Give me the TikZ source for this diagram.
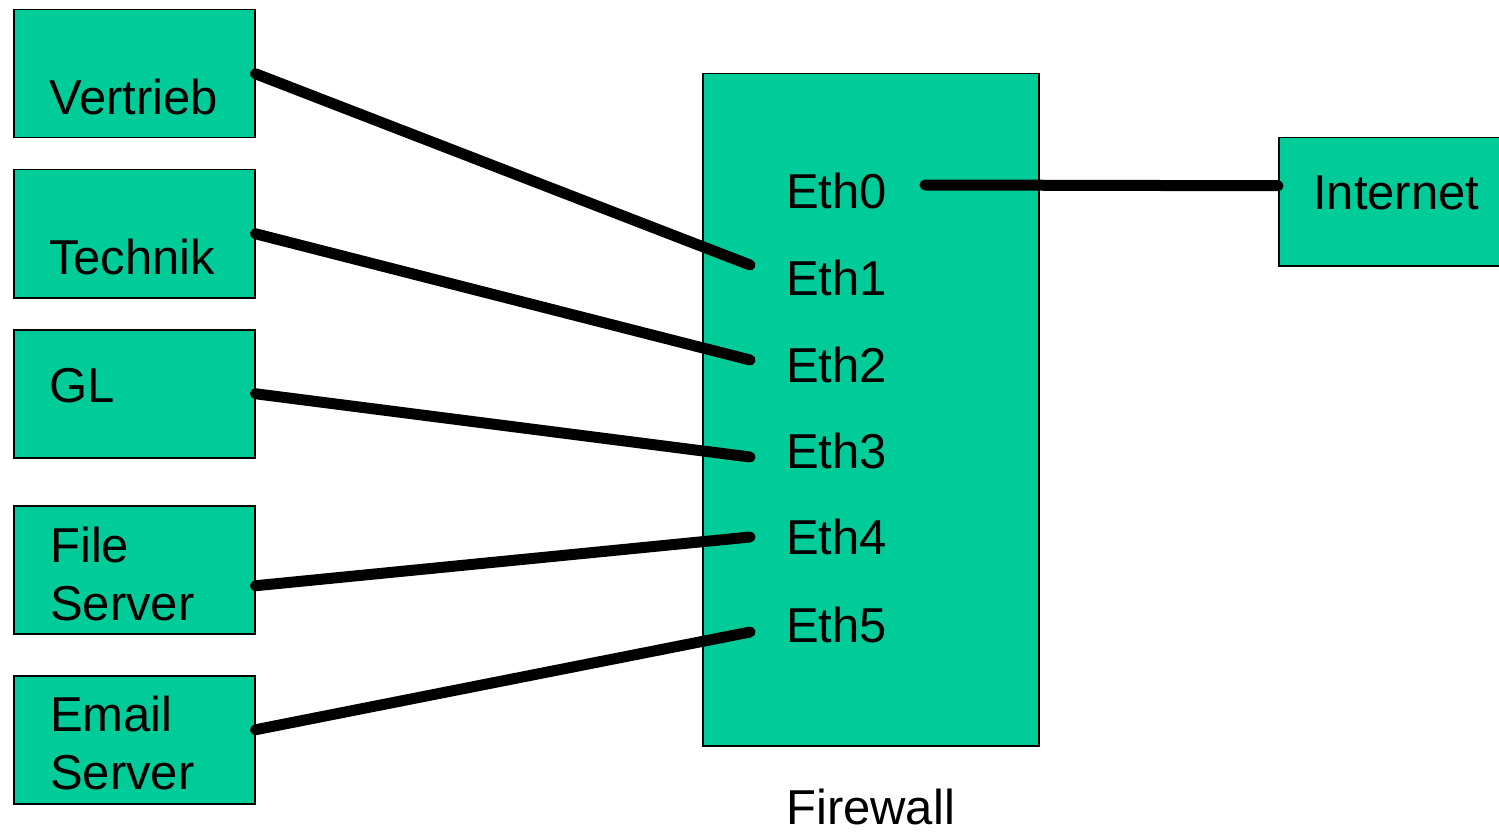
\documentclass[tikz,border=0pt]{standalone}
\usepackage{fontspec}
\setmainfont{Liberation Sans}
\definecolor{fwgreen}{HTML}{00CC99}
\begin{document}
\begin{tikzpicture}
[x=1pt,y=-1pt,
  boxdecorate/.style={draw,fill=fwgreen,line width=1.5pt,inner sep=0pt,
    minimum width=241pt,minimum height=128pt,anchor=north west},%
  textdecorate/.style={anchor=base west,inner sep=0pt,align=left,
    font=\fontsize{49}{58}\selectfont},%
  linedecorate/.style={-,line width=11pt,line cap=round}]
\useasboundingbox (0,0) rectangle (1499,837);
\clip (0,0) rectangle (1499,837);
%% boxes on the left
\foreach \nodename/\y in {vertrieb/9, technik/169, gl/329, fileserver/505, emailserver/675} {
  \node (\nodename) at (13,\y) [boxdecorate] {};
}
\node (firewall) at (702,73) [boxdecorate,minimum width=336pt,minimum height=672pt] {};
\node (internet) at (1278,137) [boxdecorate,minimum width=260pt] {};
%% texts
\node (tvertrieb) at (49,115) [textdecorate] {Vertrieb};
\node (ttechnik) at (49,274) [textdecorate] {Technik};
\node (tgl) at (49,402) [textdecorate] {GL};
\node (tfileserver) at (50,620) [textdecorate] {File\\Server};
\node (temailserver) at (50,789) [textdecorate] {Email\\Server};
\node (tinternet) at (1313,210) [textdecorate] {Internet};
\node (tfirewall) at (786,824) [textdecorate] {Firewall};
\foreach \nodename/\y in {0/208, 1/295, 2/382, 3/468, 4/554, 5/642} {
  \node (eth\nodename) at (786,\y) [textdecorate] {Eth\nodename};
}
%% ports
\coordinate (p0) at (925,185);
\coordinate (p1) at (750,265);
\coordinate (p2) at (750,360);
\coordinate (p3) at (750,457);
\coordinate (p4) at (750,537);
\coordinate (p5) at (750,632);
%% edges or lines
\draw[linedecorate] (vertrieb.east) -- (p1);
\draw[linedecorate] (technik.east) -- (p2);
\draw[linedecorate] (gl.east) -- (p3);
\draw[linedecorate] ([yshift=-16pt]fileserver.east) -- (p4);
\draw[linedecorate] ([yshift=10pt]emailserver.east) -- (p5);
\draw[linedecorate] (p0) -- ([yshift=16pt]internet.west);
\end{tikzpicture}
\end{document}
